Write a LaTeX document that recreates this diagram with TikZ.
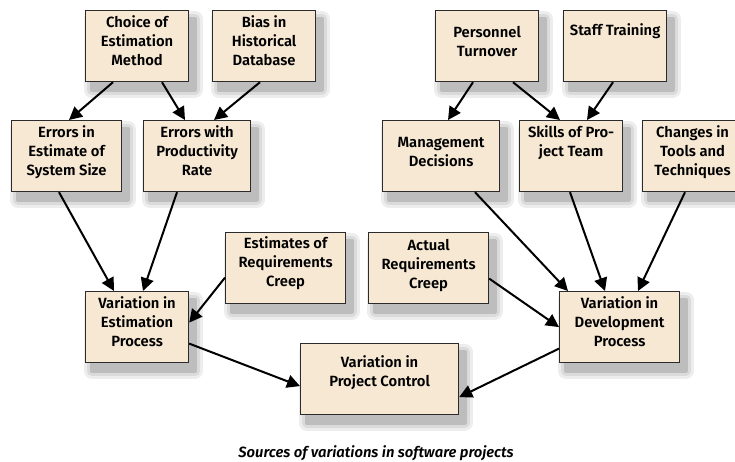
\documentclass[tikz,border=0pt]{standalone}
\usepackage{fontspec}
\setmainfont{Fira Sans}[BoldFont={Fira Sans SemiBold},BoldItalicFont={Fira Sans SemiBold Italic}]
\usetikzlibrary{arrows.meta,positioning}
\definecolor{boxfill}{HTML}{F6E8D3}
\definecolor{boxline}{HTML}{2B2B2B}
% width, baseline of first line, text
\newcommand{\boxtxt}[3]{\parbox[t][71pt][t]{#1}{\centering\rule{0pt}{#2}#3}}

\begin{document}
\begin{tikzpicture}[
  x=1pt, y=-1pt,
  shade1/.style={preaction={fill=black!7, draw=black!7, line width=16pt, line join=round, transform canvas={shift={(6pt,-8pt)}}}},
  shade2/.style={preaction={fill=black!14, draw=black!14, line width=10pt, line join=round, transform canvas={shift={(6pt,-8pt)}}}},
  shade3/.style={preaction={fill=black!26, draw=black!26, line width=4pt, line join=round, transform canvas={shift={(6pt,-8pt)}}}},
  box/.style={shade1, shade2, shade3, draw=boxline, line width=1.2pt, fill=boxfill, inner sep=0pt, anchor=north west,
    font=\fontsize{14.8}{19}\selectfont\bfseries},
  arr/.style={line width=2pt, -{Triangle[length=13pt, width=13pt]}}
]
\useasboundingbox (0,0) rectangle (735,461);

% estimation side
\node[box] (choice) at (85,10) {\boxtxt{103pt}{17pt}{Choice of\\Estimation\\Method}};
\node[box] (bias) at (212,10) {\boxtxt{103pt}{17pt}{Bias in\\Historical\\Database}};
\node[box] (errsize) at (11,120) {\boxtxt{110pt}{17pt}{Errors in\\Estimate of\\System Size}};
\node[box] (errrate) at (143,120) {\boxtxt{107pt}{17pt}{Errors with\\Productivity\\Rate}};
\node[box] (varest) at (85,291) {\boxtxt{103pt}{17pt}{Variation in\\Estimation\\Process}};
\node[box] (estcreep) at (225,232) {\boxtxt{120pt}{16pt}{Estimates of\\Requirements\\Creep}};

% development side
\node[box] (turnover) at (435,10) {\boxtxt{103pt}{27pt}{Personnel\\Turnover}};
\node[box] (training) at (563,10) {\boxtxt{103pt}{25pt}{Staff Training}};
\node[box] (mgmt) at (382,120) {\boxtxt{117pt}{27pt}{Management\\Decisions}};
\node[box] (skills) at (519,120) {\boxtxt{103pt}{17pt}{Skills of Pro-\\ject Team}};
\node[box] (tools) at (642,120) {\boxtxt{100pt}{17pt}{Changes in\\Tools and\\Techniques}};
\node[box] (actcreep) at (368,232) {\boxtxt{120pt}{18pt}{Actual\\Requirements\\Creep}};
\node[box] (vardev) at (559,291) {\boxtxt{120pt}{17pt}{Variation in\\Development\\Process}};

\node[box] (control) at (300,343) {\boxtxt{158pt}{24pt}{Variation in\\Project Control}};

\node (caption) at (376,453) {\fontsize{14.8}{17}\selectfont\bfseries\itshape Sources of variations in software projects};

\draw[arr] ([xshift=28pt]choice.south west) -- ([xshift=58pt]errsize.north west);
\draw[arr] ([xshift=77pt]choice.south west) -- ([xshift=42pt]errrate.north west);
\draw[arr] ([xshift=48pt]bias.south west) -- ([xshift=71pt]errrate.north west);
\draw[arr] ([xshift=48pt]errsize.south west) -- ([xshift=29pt]varest.north west);
\draw[arr] ([xshift=34pt]errrate.south west) -- ([xshift=58pt]varest.north west);
\draw[arr] ([yshift=-9.5pt]estcreep.west) -- ([yshift=4.5pt]varest.east);
\draw[arr] ([yshift=-16.5pt]varest.east) -- ([yshift=-7pt]control.west);

\draw[arr] ([xshift=38pt]turnover.south west) -- ([xshift=66pt]mgmt.north west);
\draw[arr] ([xshift=78pt]turnover.south west) -- ([xshift=41pt]skills.north west);
\draw[arr] ([xshift=50pt]training.south west) -- ([xshift=68pt]skills.north west);
\draw[arr] ([xshift=93pt]mgmt.south west) -- ([xshift=9pt]vardev.north west);
\draw[arr] ([xshift=51pt]skills.south west) -- ([xshift=46pt]vardev.north west);
\draw[arr] ([xshift=43pt]tools.south west) -- ([xshift=79pt]vardev.north west);
\draw[arr] ([yshift=-10.5pt]actcreep.east) -- (vardev.west);
\draw[arr] ([yshift=-21.5pt]vardev.west) -- ([yshift=-18pt]control.east);
\end{tikzpicture}
\end{document}
